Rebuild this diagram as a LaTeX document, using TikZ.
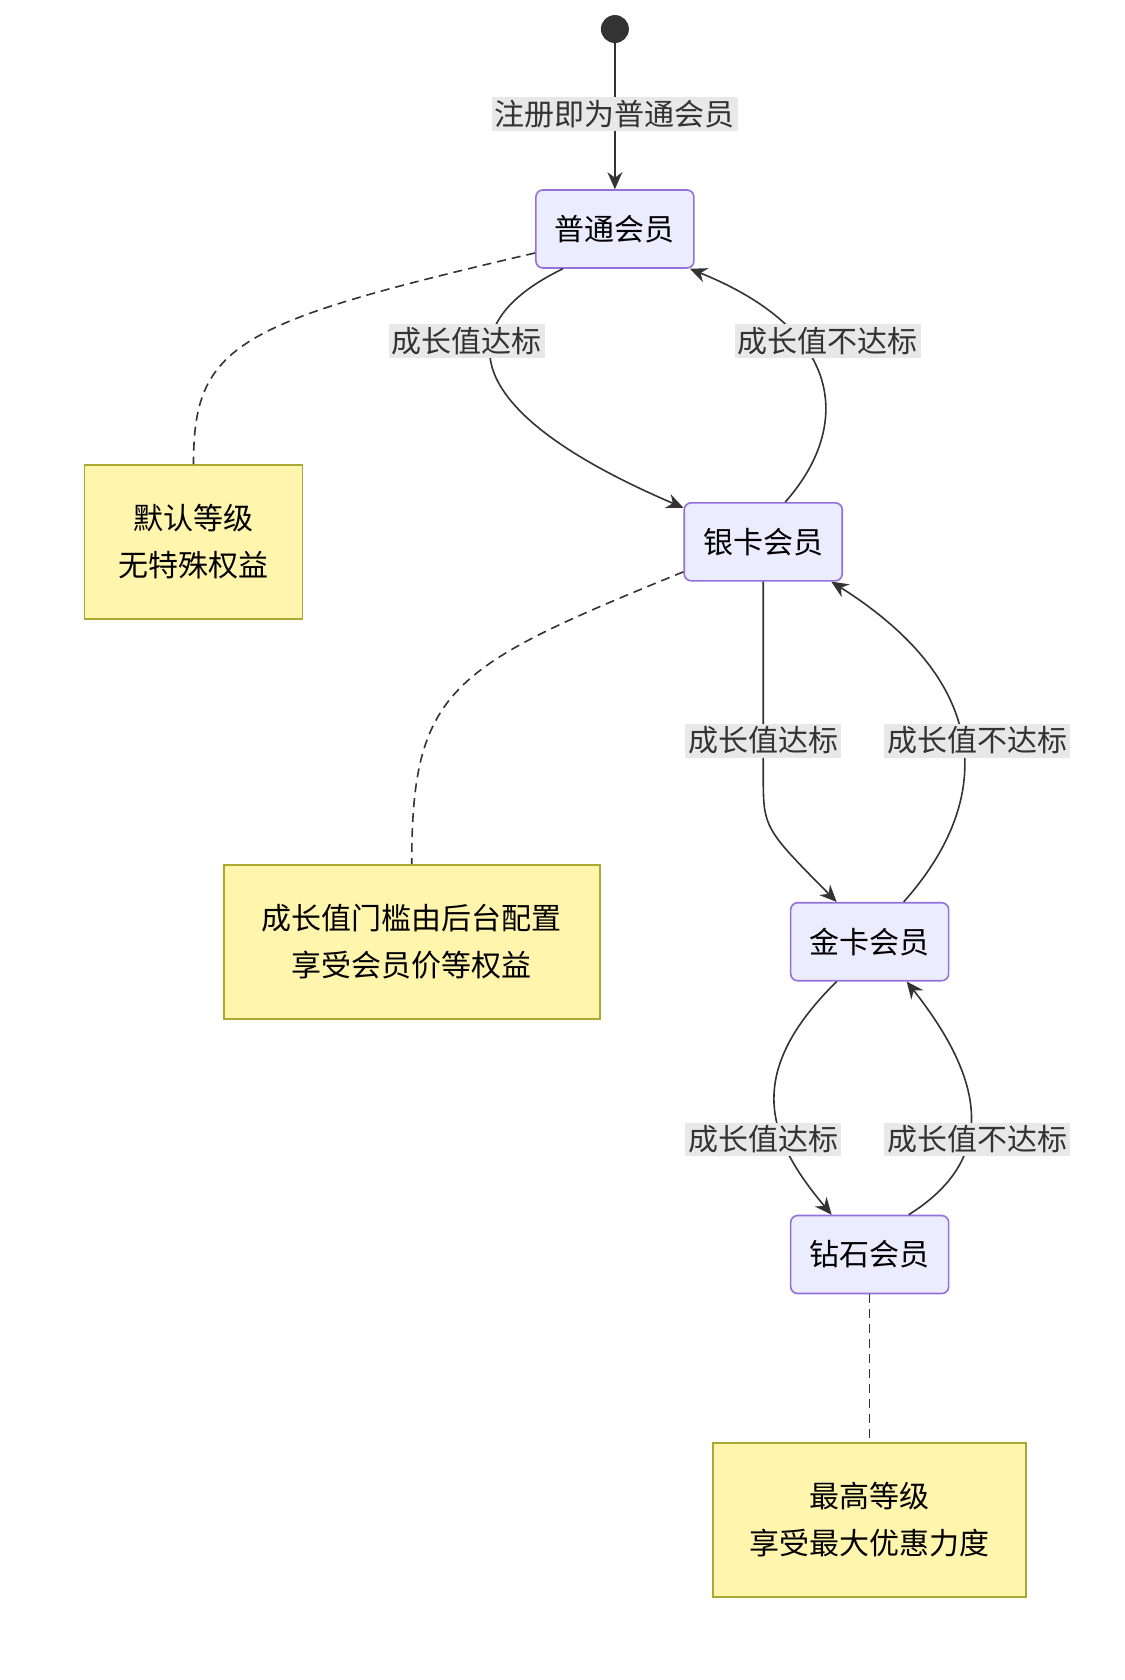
\documentclass[tikz,border=0pt]{standalone}
\usepackage{fontspec}
\setmainfont{Noto Sans CJK SC}
\usetikzlibrary{arrows.meta,positioning}
\definecolor{stfill}{HTML}{ECECFF}
\definecolor{stline}{HTML}{9370DB}
\definecolor{ntfill}{HTML}{FFF5AD}
\definecolor{ntline}{HTML}{AAAA33}
\definecolor{edge}{HTML}{333333}
\definecolor{lbl}{HTML}{E8E8E8}
\tikzset{state/.style={draw=stline,fill=stfill,line width=1.6pt,rounded corners=7pt,minimum width=158pt,minimum height=78pt,font=\fontsize{30}{34}\selectfont},
note/.style={draw=ntline,fill=ntfill,line width=1.6pt,minimum height=154pt,align=center,font=\fontsize{30}{47}\selectfont},
elbl/.style={fill=lbl,inner sep=3pt,text=edge,font=\fontsize{30}{34}\selectfont},
arr/.style={edge,line width=1.6pt,-{Stealth[length=17pt,width=15pt]}},
link/.style={edge,line width=1.6pt,dashed,dash pattern=on 9pt off 6pt}}
\begin{document}
\begin{tikzpicture}[x=1.075pt,y=-1.075pt]
\useasboundingbox (0,0) rectangle (1045.6,1562.8);

\fill[edge] (572,27) circle (13) coordinate (start);
\node[state] (putong) at (572,213) {普通会员};
\node[state] (yinka) at (710,504) {银卡会员};
\node[state] (jinka) at (809,876) {金卡会员};
\node[state] (zuanshi) at (809,1167) {钻石会员};

\node[note,minimum width=218pt] (n1) at (180,504) {默认等级\\无特殊权益};
\node[note,minimum width=376pt] (n2) at (383,876) {成长值门槛由后台配置\\享受会员价等权益};
\node[note,minimum width=313pt] (n3) at (809,1414) {最高等级\\享受最大优惠力度};

% transitions
\draw[arr] (start) -- (putong.north);
\draw[arr] ([xshift=-52pt]putong.south) .. controls (420,300) and (420,380) .. ([yshift=34pt]yinka.west);
\draw[arr] ([xshift=22pt]yinka.north) .. controls (790,400) and (790,310) .. ([xshift=75pt]putong.south);
\draw[arr] (yinka.south) -- (710,720) .. controls (710,770) .. ([xshift=-33pt]jinka.north);
\draw[arr] ([xshift=34pt]jinka.north) .. controls (920,750) and (930,640) .. ([xshift=68pt]yinka.south);
\draw[arr] ([xshift=-33pt]jinka.south) .. controls (690,1000) and (715,1060) .. ([xshift=-38pt]zuanshi.north);
\draw[arr] ([xshift=39pt]zuanshi.north) .. controls (925,1080) and (920,1010) .. ([xshift=37pt]jinka.south);

\node[elbl] at (572,106) {注册即为普通会员};
\node[elbl] at (434,317) {成长值达标};
\node[elbl] at (770,317) {成长值不达标};
\node[elbl] at (710,689) {成长值达标};
\node[elbl] at (909,689) {成长值不达标};
\node[elbl] at (710,1060) {成长值达标};
\node[elbl] at (909,1060) {成长值不达标};

% notes
\draw[link] ([yshift=-24pt]putong.west) .. controls (220,300) and (180,320) .. (n1.north);
\draw[link] ([yshift=-30pt]yinka.west) .. controls (420,620) and (383,640) .. (n2.north);
\draw[link] (zuanshi.south) -- (n3.north);
\end{tikzpicture}
\end{document}
